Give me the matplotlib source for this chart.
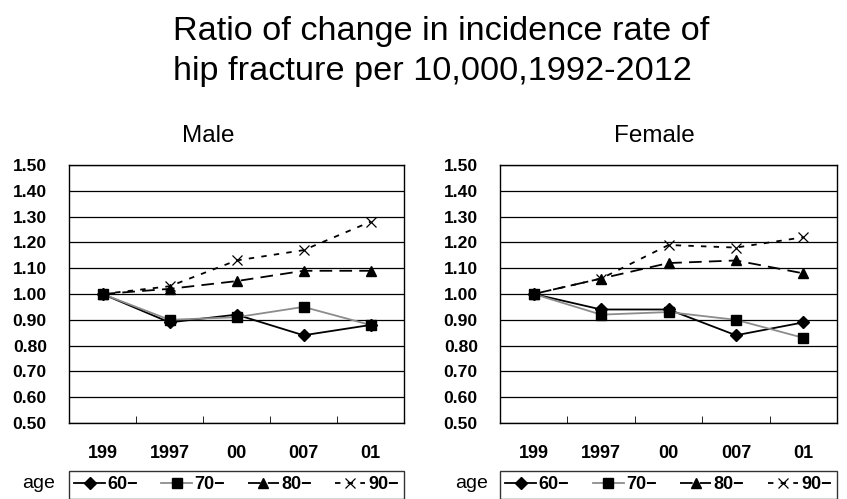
import matplotlib.pyplot as plt
from matplotlib.ticker import FixedLocator

plt.rcParams['font.family'] = ['Liberation Sans', 'DejaVu Sans']

years = ["199", "1997", "00", "007", "01"]
ages = ["60\u2212", "70\u2212", "80\u2212", "90\u2212"]

male_60 = [1.00, 0.89, 0.92, 0.84, 0.88]
male_70 = [1.00, 0.90, 0.91, 0.95, 0.88]
male_80 = [1.00, 1.02, 1.05, 1.09, 1.09]
male_90 = [1.00, 1.03, 1.13, 1.17, 1.28]

female_60 = [1.00, 0.94, 0.94, 0.84, 0.89]
female_70 = [1.00, 0.92, 0.93, 0.90, 0.83]
female_80 = [1.00, 1.06, 1.12, 1.13, 1.08]
female_90 = [1.00, 1.06, 1.19, 1.18, 1.22]

styles = [
    dict(color="black", lw=1.3, ls="-", marker="D", ms=6.5),
    dict(color="#8c8c8c", lw=1.3, ls="-", marker="s", ms=6.5, mfc="black", mec="black"),
    dict(color="black", lw=1.3, ls=(0, (7, 4)), marker="^", ms=7.5),
    dict(color="black", lw=1.3, ls=(0, (3, 4)), marker="x", ms=7.5, mew=0.9),
]

fig = plt.figure(figsize=(8.47, 4.99), dpi=100)
# two title lines, both starting at the same left edge
fig.text(0.204, 0.9198, "Ratio of change in incidence rate of",
         ha="left", va="baseline", fontsize=24.7)
fig.text(0.204, 0.8397, "hip fracture per 10,000,1992-2012",
         ha="left", va="baseline", fontsize=24.7)

panels = [
    ("Male", [0.0815, 0.1523, 0.3955, 0.517], [male_60, male_70, male_80, male_90], 208 / 847, -0.042),
    ("Female", [0.5903, 0.1523, 0.398, 0.517], [female_60, female_70, female_80, female_90], 654 / 847, -0.036),
]

x = list(range(len(years)))
for name, pos, series, title_x, age_x in panels:
    ax = fig.add_axes(pos)
    lines = []
    for vals, st in zip(series, styles):
        ln, = ax.plot(x, vals, **st)
        lines.append(ln)
    ax.set_xlim(-0.5, 4.5)
    ax.set_ylim(0.5, 1.5)
    ax.set_yticks([0.5 + 0.1 * i for i in range(11)])
    ax.set_yticklabels(["%.2f" % (0.5 + 0.1 * i) for i in range(11)],
                       fontsize=12.6, fontweight="bold")
    ax.tick_params(axis="y", length=0, pad=16)
    ax.yaxis.grid(True, color="black", lw=0.9)
    ax.set_axisbelow(True)
    ax.set_xticks(x)
    ax.set_xticklabels(years, fontsize=13, fontweight="bold")
    ax.tick_params(axis="x", which="major", length=0, pad=16)
    ax.xaxis.set_minor_locator(FixedLocator([0.5, 1.5, 2.5, 3.5]))
    ax.tick_params(axis="x", which="minor", direction="in", length=5, color="black")
    for sp in ax.spines.values():
        sp.set_color("black")
        sp.set_linewidth(1.0)
    fig.text(title_x, 0.7154, name, ha="center", va="baseline", fontsize=17.5)

    leg = ax.legend(lines, ages, loc="upper left", bbox_to_anchor=(0, -0.29, 1, 0.104),
                    mode="expand", ncol=4, frameon=True, fancybox=False,
                    fontsize=13, handlelength=1.7, handletextpad=0.15,
                    columnspacing=0.5, borderpad=0.3, borderaxespad=0)
    leg.get_frame().set_edgecolor("black")
    leg.get_frame().set_linewidth(1.0)
    for t in leg.get_texts():
        t.set_fontweight("bold")
    ax.text(age_x, -0.233, "age", transform=ax.transAxes, ha="right", va="center", fontsize=14)

fig.savefig("out.png", dpi=100)
